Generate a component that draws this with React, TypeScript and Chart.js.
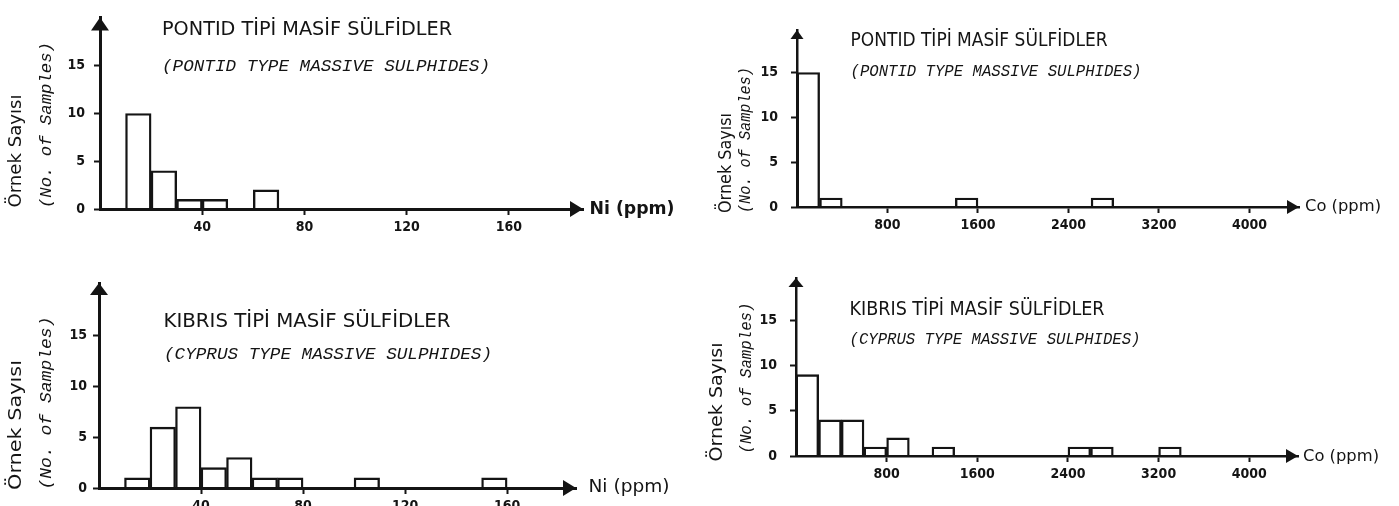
import React, { useEffect, useRef } from "react";
import { Chart, registerables } from "chart.js";

Chart.register(...registerables);

// ---------- data ----------
const countTicks = [0, 5, 10, 15];
const niTicks = [40, 80, 120, 160];
const coTicks = [800, 1600, 2400, 3200, 4000];

const niBinWidth = 10;
const coBinWidth = 200;

const pontidNiBins = [10, 20, 30, 40, 60];
const pontidNiCounts = [10, 4, 1, 1, 2];

const pontidCoBins = [0, 200, 1400, 2600];
const pontidCoCounts = [15, 1, 1, 1];

const cyprusNiBins = [10, 20, 30, 40, 50, 60, 70, 100, 150];
const cyprusNiCounts = [1, 6, 8, 2, 3, 1, 1, 1, 1];

const cyprusCoBins = [0, 200, 400, 600, 800, 1200, 2400, 2600, 3200];
const cyprusCoCounts = [9, 4, 4, 1, 2, 1, 1, 1, 1];

const titlePontid = "PONTID TİPİ MASİF SÜLFİDLER";
const subPontid = "(PONTID TYPE MASSIVE SULPHIDES)";
const titleCyprus = "KIBRIS TİPİ MASİF SÜLFİDLER";
const subCyprus = "(CYPRUS TYPE MASSIVE SULPHIDES)";
const yLabelTr = "Örnek Sayısı";
const yLabelEn = "(No. of Samples)";
const xLabelNi = "Ni (ppm)";
const xLabelCo = "Co (ppm)";

// ---------- styles ----------
const INK = "#141414";
const Y_W = 50;
const X_H = 30;
const TITLE_FONT = '20px "DejaVu Sans Condensed", "DejaVu Sans", sans-serif';
const SUB_FONT = 'italic 16px "Liberation Mono", "DejaVu Sans Mono", monospace';
const YTR_FONT = '17px "DejaVu Sans", sans-serif';
const YEN_FONT = 'italic 16px "Liberation Mono", "DejaVu Sans Mono", monospace';
const TICK_FAMILY = '"DejaVu Sans Condensed", "DejaVu Sans", sans-serif';

type Txt = { text: string; cx: number; cy: number; w: number; font: string; rot?: boolean };

type PanelCfg = {
  left: number;
  top: number;
  width: number;
  height: number;
  area: { l: number; t: number; r: number; b: number };
  xMax: number;
  yMax: number;
  bins: number[];
  counts: number[];
  binWidth: number;
  xTicks: number[];
  yTickPad: number;
  arrow: { yw: number; yh: number; xw: number; xh: number };
  lineW: number;
  texts: Txt[];
};

function drawFitted(ctx: CanvasRenderingContext2D, t: Txt) {
  ctx.save();
  ctx.font = t.font;
  const m = ctx.measureText(t.text).width || 1;
  ctx.translate(t.cx, t.cy);
  if (t.rot) ctx.rotate(-Math.PI / 2);
  ctx.scale(t.w / m, 1);
  ctx.textAlign = "center";
  ctx.textBaseline = "middle";
  ctx.fillStyle = INK;
  ctx.fillText(t.text, 0, 0);
  ctx.restore();
}

const decorPlugin = {
  id: "decor",
  afterDraw(chart: any, _args: any, opts: any) {
    const { ctx, chartArea } = chart;
    const { left, top, right, bottom } = chartArea;
    const a = opts.arrow;
    ctx.save();
    ctx.fillStyle = INK;
    ctx.beginPath();
    ctx.moveTo(left, top);
    ctx.lineTo(left - a.yw / 2, top + a.yh);
    ctx.lineTo(left + a.yw / 2, top + a.yh);
    ctx.closePath();
    ctx.fill();
    ctx.beginPath();
    ctx.moveTo(right, bottom);
    ctx.lineTo(right - a.xw, bottom - a.xh / 2);
    ctx.lineTo(right - a.xw, bottom + a.xh / 2);
    ctx.closePath();
    ctx.fill();
    ctx.restore();
    (opts.texts as Txt[]).forEach((t) => drawFitted(ctx, t));
  },
};

function Panel({ cfg }: { cfg: PanelCfg }) {
  const ref = useRef<HTMLCanvasElement | null>(null);
  useEffect(() => {
    if (!ref.current) return;
    const data = cfg.bins.map((b, i) => ({ x: b + cfg.binWidth / 2, y: cfg.counts[i] }));
    const chart = new Chart(ref.current, {
      type: "bar",
      data: {
        datasets: [
          {
            data,
            backgroundColor: "rgba(255,255,255,0)",
            borderColor: INK,
            borderWidth: 1.7,
            barPercentage: 1,
            categoryPercentage: 1,
          } as any,
        ],
      },
      options: {
        animation: false,
        responsive: false,
        maintainAspectRatio: false,
        devicePixelRatio: 1,
        events: [],
        layout: {
          padding: {
            left: cfg.area.l - Y_W,
            top: cfg.area.t,
            right: cfg.width - cfg.area.r,
            bottom: cfg.height - cfg.area.b - X_H,
          },
        },
        plugins: {
          legend: { display: false },
          tooltip: { enabled: false },
          title: { display: false },
          decor: { arrow: cfg.arrow, texts: cfg.texts },
        } as any,
        scales: {
          x: {
            type: "linear",
            min: 0,
            max: cfg.xMax,
            offset: false,
            afterFit: (s: any) => {
              s.height = X_H;
            },
            afterBuildTicks: (s: any) => {
              s.ticks = cfg.xTicks.map((v) => ({ value: v }));
            },
            grid: {
              display: true,
              drawOnChartArea: false,
              drawTicks: true,
              tickLength: 6,
              tickWidth: 2,
              tickColor: INK,
              offset: false,
            },
            border: { display: true, width: cfg.lineW, color: INK },
            ticks: {
              color: INK,
              font: { family: TICK_FAMILY, size: 14, weight: "bold" },
              padding: 4,
              maxRotation: 0,
              autoSkip: false,
              callback: (v: any) => String(v),
            },
          } as any,
          y: {
            type: "linear",
            min: 0,
            max: cfg.yMax,
            afterFit: (s: any) => {
              s.width = Y_W;
            },
            afterBuildTicks: (s: any) => {
              s.ticks = countTicks.map((v) => ({ value: v }));
            },
            grid: {
              display: true,
              drawOnChartArea: false,
              drawTicks: true,
              tickLength: 6,
              tickWidth: 2,
              tickColor: INK,
            },
            border: { display: true, width: cfg.lineW, color: INK },
            ticks: {
              color: INK,
              font: { family: TICK_FAMILY, size: 14, weight: "bold" },
              padding: cfg.yTickPad,
              autoSkip: false,
              callback: (v: any) => String(v),
            },
          } as any,
        },
      },
      plugins: [decorPlugin as any],
    });
    return () => chart.destroy();
  }, [cfg]);
  return (
    <canvas
      ref={ref}
      width={cfg.width}
      height={cfg.height}
      style={{ position: "absolute", left: cfg.left, top: cfg.top, width: cfg.width, height: cfg.height }}
    />
  );
}

const panels: PanelCfg[] = [
  {
    left: 0,
    top: 0,
    width: 700,
    height: 250,
    area: { l: 100, t: 7, r: 583, b: 209 },
    xMax: 189,
    yMax: 20.06,
    bins: pontidNiBins,
    counts: pontidNiCounts,
    binWidth: niBinWidth,
    xTicks: niTicks,
    yTickPad: 9,
    arrow: { yw: 18, yh: 13, xw: 13, xh: 16 },
    lineW: 3,
    texts: [
      { text: titlePontid, cx: 162 + 145, cy: 30, w: 290, font: TITLE_FONT },
      { text: subPontid, cx: 162 + 164, cy: 67, w: 328, font: SUB_FONT },
      { text: yLabelTr, cx: 17, cy: 151, w: 113, font: YTR_FONT, rot: true },
      { text: yLabelEn, cx: 47, cy: 125, w: 166, font: YEN_FONT, rot: true },
      { text: xLabelNi, cx: 590 + 42, cy: 209, w: 85, font: 'bold 18px "DejaVu Sans Condensed", sans-serif' },
    ],
  },
  {
    left: 700,
    top: 0,
    width: 699,
    height: 250,
    area: { l: 97, t: 30, r: 599, b: 207 },
    xMax: 4438,
    yMax: 19.75,
    bins: pontidCoBins,
    counts: pontidCoCounts,
    binWidth: coBinWidth,
    xTicks: coTicks,
    yTickPad: 13,
    arrow: { yw: 13, yh: 9, xw: 12, xh: 14 },
    lineW: 2.5,
    texts: [
      { text: titlePontid, cx: 151 + 128, cy: 41, w: 257, font: TITLE_FONT },
      { text: subPontid, cx: 151 + 145, cy: 72, w: 291, font: SUB_FONT },
      { text: yLabelTr, cx: 27, cy: 163, w: 100, font: YTR_FONT, rot: true },
      { text: yLabelEn, cx: 46, cy: 140, w: 146, font: YEN_FONT, rot: true },
      { text: xLabelCo, cx: 605 + 38, cy: 207, w: 76, font: '16px "DejaVu Sans", sans-serif' },
    ],
  },
  {
    left: 0,
    top: 250,
    width: 700,
    height: 280,
    area: { l: 99, t: 33, r: 576, b: 238 },
    xMax: 187,
    yMax: 20.2,
    bins: cyprusNiBins,
    counts: cyprusNiCounts,
    binWidth: niBinWidth,
    xTicks: niTicks,
    yTickPad: 6,
    arrow: { yw: 18, yh: 12, xw: 13, xh: 16 },
    lineW: 3,
    texts: [
      { text: titleCyprus, cx: 164 + 143, cy: 72, w: 287, font: TITLE_FONT },
      { text: subCyprus, cx: 164 + 164, cy: 105, w: 328, font: SUB_FONT },
      { text: yLabelTr, cx: 17, cy: 175, w: 130, font: YTR_FONT, rot: true },
      { text: yLabelEn, cx: 47, cy: 153, w: 173, font: YEN_FONT, rot: true },
      { text: xLabelNi, cx: 589 + 40, cy: 238, w: 81, font: '17px "DejaVu Sans Condensed", sans-serif' },
    ],
  },
  {
    left: 700,
    top: 250,
    width: 699,
    height: 256,
    area: { l: 96, t: 28, r: 598, b: 206 },
    xMax: 4430,
    yMax: 19.7,
    bins: cyprusCoBins,
    counts: cyprusCoCounts,
    binWidth: coBinWidth,
    xTicks: coTicks,
    yTickPad: 13,
    arrow: { yw: 15, yh: 9, xw: 12, xh: 14 },
    lineW: 2.5,
    texts: [
      { text: titleCyprus, cx: 150 + 127, cy: 60, w: 255, font: TITLE_FONT },
      { text: subCyprus, cx: 150 + 145, cy: 90, w: 291, font: SUB_FONT },
      { text: yLabelTr, cx: 18, cy: 152, w: 119, font: YTR_FONT, rot: true },
      { text: yLabelEn, cx: 47, cy: 128, w: 151, font: YEN_FONT, rot: true },
      { text: xLabelCo, cx: 603 + 38, cy: 207, w: 76, font: '16px "DejaVu Sans", sans-serif' },
    ],
  },
];

export default function App() {
  return (
    <div
      style={{
        position: "fixed",
        left: 0,
        top: 0,
        width: 1399,
        height: 506,
        overflow: "hidden",
        background: "#ffffff",
      }}
    >
      {panels.map((p, i) => (
        <Panel key={i} cfg={p} />
      ))}
    </div>
  );
}
